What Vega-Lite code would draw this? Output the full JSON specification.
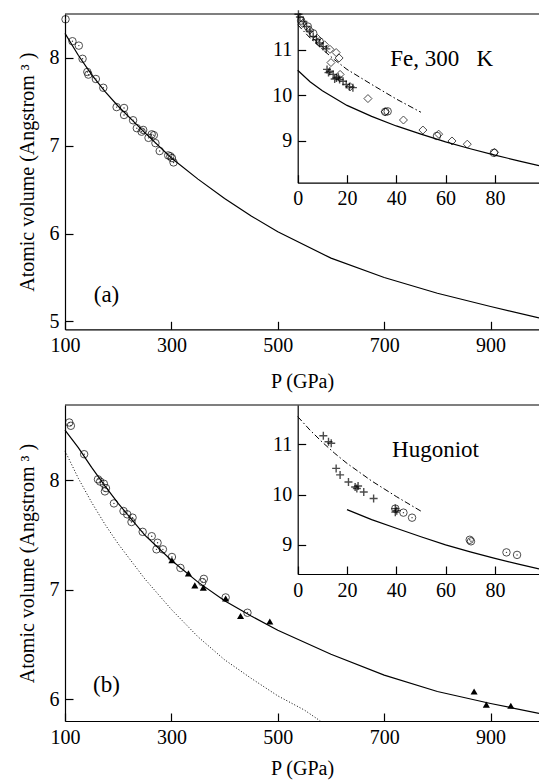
{
  "$schema": "https://vega.github.io/schema/vega-lite/v6.json",
  "width": 474,
  "height": 707,
  "autosize": "none",
  "padding": {"left": 65, "top": 14, "right": 0, "bottom": 60},
  "config": {
    "font": "Liberation Serif",
    "view": {"stroke": null},
    "axis": {
      "grid": false,
      "domainColor": "black",
      "tickColor": "black",
      "labelColor": "black",
      "titleColor": "black",
      "labelFont": "Liberation Serif",
      "titleFont": "Liberation Serif",
      "labelFontSize": 20,
      "titleFontSize": 20,
      "titleFontWeight": "normal",
      "tickSize": -8,
      "labelPadding": 14,
      "labelFlush": false,
      "labelOverlap": false,
      "domainWidth": 1.2,
      "tickWidth": 1.2
    }
  },
  "datasets": {
    "a_curve": [
      {"P": 100, "V": 8.28}, {"P": 125, "V": 8.03}, {"P": 150, "V": 7.81}, {"P": 175, "V": 7.62},
      {"P": 200, "V": 7.45}, {"P": 250, "V": 7.15}, {"P": 300, "V": 6.86}, {"P": 350, "V": 6.62},
      {"P": 400, "V": 6.40}, {"P": 450, "V": 6.20}, {"P": 500, "V": 6.02}, {"P": 600, "V": 5.72},
      {"P": 700, "V": 5.50}, {"P": 800, "V": 5.32}, {"P": 900, "V": 5.17}, {"P": 991, "V": 5.04}
    ],
    "a_circles": [
      {"P": 101, "V": 8.44}, {"P": 114, "V": 8.19}, {"P": 126, "V": 8.14}, {"P": 133, "V": 7.99},
      {"P": 142, "V": 7.84}, {"P": 144, "V": 7.81}, {"P": 158, "V": 7.76}, {"P": 172, "V": 7.66},
      {"P": 197, "V": 7.44}, {"P": 211, "V": 7.43}, {"P": 211, "V": 7.35}, {"P": 228, "V": 7.29},
      {"P": 235, "V": 7.20}, {"P": 247, "V": 7.18}, {"P": 244, "V": 7.16}, {"P": 263, "V": 7.13},
      {"P": 257, "V": 7.09}, {"P": 267, "V": 7.12}, {"P": 270, "V": 7.03}, {"P": 278, "V": 6.94},
      {"P": 294, "V": 6.89}, {"P": 298, "V": 6.88}, {"P": 301, "V": 6.86}, {"P": 304, "V": 6.81}
    ],
    "a_text": [{"P": 178, "V": 5.30, "label": "(a)"}],
    "ia_solid": [
      {"x": 0, "V": 10.55}, {"x": 5, "V": 10.30}, {"x": 10, "V": 10.10}, {"x": 20, "V": 9.78},
      {"x": 30, "V": 9.54}, {"x": 40, "V": 9.33}, {"x": 50, "V": 9.15}, {"x": 60, "V": 8.98},
      {"x": 70, "V": 8.83}, {"x": 80, "V": 8.69}, {"x": 90, "V": 8.56}, {"x": 97.9, "V": 8.46}
    ],
    "ia_dashdot": [
      {"x": 0, "V": 11.55}, {"x": 5, "V": 11.26}, {"x": 10, "V": 11.01}, {"x": 15, "V": 10.78},
      {"x": 20, "V": 10.57}, {"x": 30, "V": 10.24}, {"x": 40, "V": 9.92}, {"x": 50, "V": 9.63}
    ],
    "ia_plus": [
      {"x": 0.3, "V": 11.78}, {"x": 0.9, "V": 11.72}, {"x": 2.3, "V": 11.62}, {"x": 3.6, "V": 11.51},
      {"x": 4.9, "V": 11.40}, {"x": 6.3, "V": 11.29}, {"x": 7.6, "V": 11.22}, {"x": 8.9, "V": 11.15},
      {"x": 10.3, "V": 11.07}, {"x": 11.6, "V": 11.02}, {"x": 11.9, "V": 10.57}, {"x": 12.5, "V": 10.50},
      {"x": 13.0, "V": 10.53}, {"x": 14.4, "V": 10.46}, {"x": 15.0, "V": 10.36}, {"x": 15.7, "V": 10.38},
      {"x": 16.5, "V": 10.40}, {"x": 17.0, "V": 10.35}, {"x": 18.4, "V": 10.31}, {"x": 19.7, "V": 10.24},
      {"x": 21.0, "V": 10.19}, {"x": 22.4, "V": 10.17}
    ],
    "ia_diamonds": [
      {"x": 2.0, "V": 11.58}, {"x": 4.9, "V": 11.43}, {"x": 8.0, "V": 11.25}, {"x": 10.9, "V": 11.11},
      {"x": 13.1, "V": 11.01}, {"x": 15.6, "V": 10.94}, {"x": 16.8, "V": 10.82}, {"x": 13.5, "V": 10.72},
      {"x": 17.2, "V": 10.46}, {"x": 21.3, "V": 10.19}, {"x": 28.5, "V": 9.93}, {"x": 35.5, "V": 9.64},
      {"x": 42.9, "V": 9.46}, {"x": 50.8, "V": 9.24}, {"x": 57.2, "V": 9.15}, {"x": 62.6, "V": 9.00},
      {"x": 68.8, "V": 8.93}, {"x": 79.9, "V": 8.75}
    ],
    "ia_circles": [
      {"x": 1.4, "V": 11.64}, {"x": 4.1, "V": 11.51}, {"x": 6.3, "V": 11.36}, {"x": 8.9, "V": 11.18},
      {"x": 35.5, "V": 9.64}, {"x": 36.5, "V": 9.65}, {"x": 56.5, "V": 9.11}, {"x": 79.6, "V": 8.74}
    ],
    "ia_text": [{"x": 58.4, "V": 10.80, "label": "Fe, 300\u00a0\u00a0\u00a0K"}],
    "b_curve": [
      {"P": 100, "V": 8.46}, {"P": 125, "V": 8.30}, {"P": 150, "V": 8.12}, {"P": 175, "V": 7.95},
      {"P": 200, "V": 7.79}, {"P": 250, "V": 7.50}, {"P": 300, "V": 7.27}, {"P": 350, "V": 7.07},
      {"P": 400, "V": 6.90}, {"P": 450, "V": 6.76}, {"P": 500, "V": 6.63}, {"P": 600, "V": 6.41},
      {"P": 700, "V": 6.22}, {"P": 800, "V": 6.07}, {"P": 900, "V": 5.96}, {"P": 991, "V": 5.87}
    ],
    "b_dotted": [
      {"P": 100, "V": 8.27}, {"P": 125, "V": 8.02}, {"P": 150, "V": 7.80}, {"P": 175, "V": 7.60},
      {"P": 200, "V": 7.42}, {"P": 250, "V": 7.10}, {"P": 300, "V": 6.82}, {"P": 350, "V": 6.57},
      {"P": 400, "V": 6.36}, {"P": 450, "V": 6.19}, {"P": 500, "V": 6.03}, {"P": 550, "V": 5.90},
      {"P": 580, "V": 5.80}
    ],
    "b_circles": [
      {"P": 108, "V": 8.53}, {"P": 111, "V": 8.50}, {"P": 136, "V": 8.24}, {"P": 162, "V": 8.01},
      {"P": 166, "V": 7.99}, {"P": 173, "V": 7.97}, {"P": 177, "V": 7.93}, {"P": 175, "V": 7.90},
      {"P": 192, "V": 7.79}, {"P": 210, "V": 7.72}, {"P": 217, "V": 7.69}, {"P": 227, "V": 7.66},
      {"P": 225, "V": 7.62}, {"P": 246, "V": 7.53}, {"P": 263, "V": 7.49}, {"P": 274, "V": 7.43},
      {"P": 284, "V": 7.37}, {"P": 272, "V": 7.37}, {"P": 301, "V": 7.30}, {"P": 317, "V": 7.20},
      {"P": 361, "V": 7.10}, {"P": 358, "V": 7.07}, {"P": 402, "V": 6.93}, {"P": 443, "V": 6.79}
    ],
    "b_triangles": [
      {"P": 301, "V": 7.27}, {"P": 332, "V": 7.15}, {"P": 344, "V": 7.04}, {"P": 360, "V": 7.02},
      {"P": 402, "V": 6.92}, {"P": 430, "V": 6.76}, {"P": 485, "V": 6.71}, {"P": 869, "V": 6.07},
      {"P": 892, "V": 5.95}, {"P": 938, "V": 5.94}
    ],
    "b_text": [{"P": 178, "V": 6.13, "label": "(b)"}],
    "ib_solid": [
      {"x": 20, "V": 9.70}, {"x": 30, "V": 9.50}, {"x": 40, "V": 9.33}, {"x": 50, "V": 9.16},
      {"x": 60, "V": 9.00}, {"x": 70, "V": 8.86}, {"x": 80, "V": 8.73}, {"x": 90, "V": 8.61},
      {"x": 97.9, "V": 8.52}
    ],
    "ib_dashdot": [
      {"x": 0, "V": 11.55}, {"x": 5, "V": 11.28}, {"x": 10, "V": 11.04}, {"x": 15, "V": 10.82},
      {"x": 20, "V": 10.62}, {"x": 30, "V": 10.27}, {"x": 40, "V": 9.96}, {"x": 50, "V": 9.67}
    ],
    "ib_plus": [
      {"x": 10.4, "V": 11.17}, {"x": 12.5, "V": 11.05}, {"x": 13.6, "V": 11.02}, {"x": 15.6, "V": 10.52},
      {"x": 17.2, "V": 10.39}, {"x": 20.6, "V": 10.25}, {"x": 23.3, "V": 10.15}, {"x": 24.0, "V": 10.12},
      {"x": 24.5, "V": 10.17}, {"x": 26.8, "V": 10.05}, {"x": 30.8, "V": 9.92}, {"x": 39.6, "V": 9.65},
      {"x": 39.6, "V": 9.72}, {"x": 40.2, "V": 9.68}
    ],
    "ib_circles": [
      {"x": 39.6, "V": 9.72}, {"x": 42.9, "V": 9.64}, {"x": 46.4, "V": 9.54}, {"x": 69.8, "V": 9.10},
      {"x": 70.3, "V": 9.07}, {"x": 84.7, "V": 8.85}, {"x": 89.0, "V": 8.80}
    ],
    "ib_text": [{"x": 55.9, "V": 10.89, "label": "Hugoniot"}],
    "frame": [{"topA": 8.5, "topB": 8.69}]
  },
  "resolve": {"scale": {"x": "independent", "y": "independent"}},
  "layer": [
    {
      "layer": [
        {
          "data": {"name": "a_curve"},
          "mark": {"type": "line", "color": "black", "strokeWidth": 1.2},
          "encoding": {
            "x": {"field": "P", "type": "quantitative",
                  "scale": {"domain": [100, 991], "range": [0, 474], "nice": false, "zero": false},
                  "axis": {"orient": "bottom", "offset": -391.7, "values": [100, 300, 500, 700, 900], "format": "d", "title": "P (GPa)", "titlePadding": 16}},
            "y": {"field": "V", "type": "quantitative",
                  "scale": {"domain": [4.91, 8.5], "range": [315.3, 0], "nice": false, "zero": false},
                  "axis": {"orient": "left", "offset": 0, "values": [5, 6, 7, 8], "format": "d", "title": "Atomic volume (Angstrom ³ )", "titlePadding": 12}}
          }
        },
        {
          "data": {"name": "a_circles"},
          "mark": {"type": "point", "shape": "circle", "filled": false, "stroke": "black", "strokeWidth": 1, "size": 56},
          "encoding": {"x": {"field": "P", "type": "quantitative"}, "y": {"field": "V", "type": "quantitative"}}
        },
        {
          "data": {"name": "a_circles"},
          "mark": {"type": "circle", "color": "#333", "size": 2, "opacity": 1},
          "encoding": {"x": {"field": "P", "type": "quantitative"}, "y": {"field": "V", "type": "quantitative"}}
        },
        {
          "data": {"name": "a_text"},
          "mark": {"type": "text", "font": "Liberation Serif", "fontSize": 23, "align": "center", "baseline": "middle", "color": "black"},
          "encoding": {"x": {"field": "P", "type": "quantitative"}, "y": {"field": "V", "type": "quantitative"}, "text": {"field": "label"}}
        },
        {
          "data": {"name": "frame"},
          "mark": {"type": "rule", "color": "black", "strokeWidth": 1.2},
          "encoding": {"y": {"field": "topA", "type": "quantitative"}}
        }
      ]
    },
    {
      "layer": [
        {
          "data": {"name": "ia_solid"},
          "mark": {"type": "line", "color": "black", "strokeWidth": 1.2},
          "encoding": {
            "x": {"field": "x", "type": "quantitative",
                  "scale": {"domain": [0, 97.9], "range": [232.7, 474], "nice": false, "zero": false},
                  "axis": {"orient": "bottom", "offset": -538.3, "values": [0, 20, 40, 60, 80], "format": "d", "title": null}},
            "y": {"field": "V", "type": "quantitative",
                  "scale": {"domain": [8.085, 11.785], "range": [168.7, 0], "nice": false, "zero": false},
                  "axis": {"orient": "left", "offset": -232.7, "values": [9, 10, 11], "format": "d", "title": null}}
          }
        },
        {
          "data": {"name": "ia_dashdot"},
          "mark": {"type": "line", "color": "black", "strokeWidth": 1, "strokeDash": [6, 2.5, 1.5, 2.5]},
          "encoding": {"x": {"field": "x", "type": "quantitative"}, "y": {"field": "V", "type": "quantitative"}}
        },
        {
          "data": {"name": "ia_diamonds"},
          "mark": {"type": "point", "shape": "diamond", "filled": false, "stroke": "black", "strokeWidth": 1, "size": 64},
          "encoding": {"x": {"field": "x", "type": "quantitative"}, "y": {"field": "V", "type": "quantitative"}}
        },
        {
          "data": {"name": "ia_circles"},
          "mark": {"type": "point", "shape": "circle", "filled": false, "stroke": "black", "strokeWidth": 1, "size": 56},
          "encoding": {"x": {"field": "x", "type": "quantitative"}, "y": {"field": "V", "type": "quantitative"}}
        },
        {
          "data": {"name": "ia_plus"},
          "mark": {"type": "point", "shape": "M-1,0L1,0M0,-1L0,1", "filled": false, "stroke": "black", "strokeWidth": 1.4, "size": 64},
          "encoding": {"x": {"field": "x", "type": "quantitative"}, "y": {"field": "V", "type": "quantitative"}}
        },
        {
          "data": {"name": "ia_text"},
          "mark": {"type": "text", "font": "Liberation Serif", "fontSize": 23, "align": "center", "baseline": "middle", "color": "black"},
          "encoding": {"x": {"field": "x", "type": "quantitative"}, "y": {"field": "V", "type": "quantitative"}, "text": {"field": "label"}}
        }
      ]
    },
    {
      "layer": [
        {
          "data": {"name": "b_curve"},
          "mark": {"type": "line", "color": "black", "strokeWidth": 1.2},
          "encoding": {
            "x": {"field": "P", "type": "quantitative",
                  "scale": {"domain": [100, 991], "range": [0, 474], "nice": false, "zero": false},
                  "axis": {"orient": "bottom", "offset": 0, "values": [100, 300, 500, 700, 900], "format": "d", "title": "P (GPa)", "titlePadding": 11}},
            "y": {"field": "V", "type": "quantitative",
                  "scale": {"domain": [5.80, 8.69], "range": [707, 391], "nice": false, "zero": false},
                  "axis": {"orient": "left", "offset": 0, "values": [6, 7, 8], "format": "d", "title": "Atomic volume (Angstrom ³ )", "titlePadding": 12}}
          }
        },
        {
          "data": {"name": "b_dotted"},
          "mark": {"type": "line", "color": "black", "strokeWidth": 1, "strokeDash": [1, 2]},
          "encoding": {"x": {"field": "P", "type": "quantitative"}, "y": {"field": "V", "type": "quantitative"}}
        },
        {
          "data": {"name": "b_circles"},
          "mark": {"type": "point", "shape": "circle", "filled": false, "stroke": "black", "strokeWidth": 1, "size": 56},
          "encoding": {"x": {"field": "P", "type": "quantitative"}, "y": {"field": "V", "type": "quantitative"}}
        },
        {
          "data": {"name": "b_circles"},
          "mark": {"type": "circle", "color": "#333", "size": 2, "opacity": 1},
          "encoding": {"x": {"field": "P", "type": "quantitative"}, "y": {"field": "V", "type": "quantitative"}}
        },
        {
          "data": {"name": "b_triangles"},
          "mark": {"type": "point", "shape": "triangle-up", "filled": true, "color": "black", "opacity": 1, "size": 50},
          "encoding": {"x": {"field": "P", "type": "quantitative"}, "y": {"field": "V", "type": "quantitative"}}
        },
        {
          "data": {"name": "b_text"},
          "mark": {"type": "text", "font": "Liberation Serif", "fontSize": 23, "align": "center", "baseline": "middle", "color": "black"},
          "encoding": {"x": {"field": "P", "type": "quantitative"}, "y": {"field": "V", "type": "quantitative"}, "text": {"field": "label"}}
        },
        {
          "data": {"name": "frame"},
          "mark": {"type": "rule", "color": "black", "strokeWidth": 1.2},
          "encoding": {"y": {"field": "topB", "type": "quantitative"}}
        }
      ]
    },
    {
      "layer": [
        {
          "data": {"name": "ib_solid"},
          "mark": {"type": "line", "color": "black", "strokeWidth": 1.2},
          "encoding": {
            "x": {"field": "x", "type": "quantitative",
                  "scale": {"domain": [0, 97.9], "range": [232.7, 474], "nice": false, "zero": false},
                  "axis": {"orient": "bottom", "offset": -147, "values": [0, 20, 40, 60, 80], "format": "d", "title": null}},
            "y": {"field": "V", "type": "quantitative",
                  "scale": {"domain": [8.42, 11.78], "range": [560, 391], "nice": false, "zero": false},
                  "axis": {"orient": "left", "offset": -232.7, "values": [9, 10, 11], "format": "d", "title": null}}
          }
        },
        {
          "data": {"name": "ib_dashdot"},
          "mark": {"type": "line", "color": "black", "strokeWidth": 1, "strokeDash": [6, 2.5, 1.5, 2.5]},
          "encoding": {"x": {"field": "x", "type": "quantitative"}, "y": {"field": "V", "type": "quantitative"}}
        },
        {
          "data": {"name": "ib_circles"},
          "mark": {"type": "point", "shape": "circle", "filled": false, "stroke": "black", "strokeWidth": 1, "size": 56},
          "encoding": {"x": {"field": "x", "type": "quantitative"}, "y": {"field": "V", "type": "quantitative"}}
        },
        {
          "data": {"name": "ib_circles"},
          "mark": {"type": "circle", "color": "#333", "size": 2, "opacity": 1},
          "encoding": {"x": {"field": "x", "type": "quantitative"}, "y": {"field": "V", "type": "quantitative"}}
        },
        {
          "data": {"name": "ib_plus"},
          "mark": {"type": "point", "shape": "M-1,0L1,0M0,-1L0,1", "filled": false, "stroke": "black", "strokeWidth": 1.4, "size": 64},
          "encoding": {"x": {"field": "x", "type": "quantitative"}, "y": {"field": "V", "type": "quantitative"}}
        },
        {
          "data": {"name": "ib_text"},
          "mark": {"type": "text", "font": "Liberation Serif", "fontSize": 23, "align": "center", "baseline": "middle", "color": "black"},
          "encoding": {"x": {"field": "x", "type": "quantitative"}, "y": {"field": "V", "type": "quantitative"}, "text": {"field": "label"}}
        }
      ]
    }
  ]
}
